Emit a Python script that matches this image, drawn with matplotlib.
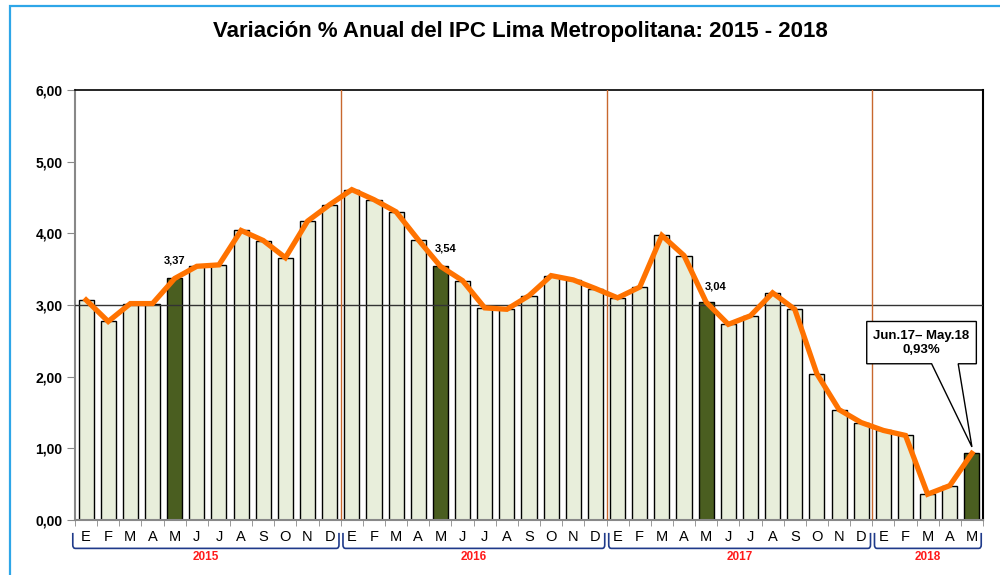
import matplotlib
matplotlib.use("Agg")
import matplotlib.pyplot as plt
from matplotlib.patches import Rectangle, Polygon, PathPatch
from matplotlib.path import Path
import matplotlib.transforms as mtransforms
import numpy as np

# ---- data ----
years = ["2015", "2016", "2017", "2018"]
months_per_year = [12, 12, 12, 5]
month_labels = ["E", "F", "M", "A", "M", "J", "J", "A", "S", "O", "N", "D"]
values_2015 = [3.07, 2.77, 3.02, 3.02, 3.37, 3.54, 3.56, 4.04, 3.90, 3.66, 4.17, 4.40]
values_2016 = [4.61, 4.47, 4.30, 3.91, 3.54, 3.34, 2.96, 2.94, 3.13, 3.41, 3.35, 3.23]
values_2017 = [3.10, 3.25, 3.97, 3.69, 3.04, 2.73, 2.85, 3.17, 2.94, 2.04, 1.54, 1.36]
values_2018 = [1.25, 1.18, 0.36, 0.48, 0.93]
highlight_labels = {4: "3,37", 16: "3,54", 28: "3,04"}
y_ticks = [0, 1, 2, 3, 4, 5, 6]
title = "Variación % Anual del IPC Lima Metropolitana: 2015 - 2018"
callout_text = "Jun.17– May.18\n0,93%"

values = values_2015 + values_2016 + values_2017 + values_2018
labels = []
for n in months_per_year:
    labels += month_labels[:n]
x = np.arange(len(values))
highlight_idx = [4, 16, 28, 40]
label_offsets = {4: (0, 9), 16: (3.5, 9), 28: (7, 8)}

bar_light = "#e8eedb"
bar_dark = "#4a5e20"
line_col = "#ff7200"
div_col = "#c8682e"

plt.rcParams['font.family'] = ['Liberation Sans', 'DejaVu Sans']

fig = plt.figure(figsize=(10, 5.75), dpi=100)
ax = fig.add_axes([0.075, 1 - 520 / 575, 0.908, 430 / 575])

colors = [bar_dark if i in highlight_idx else bar_light for i in x]
ax.bar(x, values, width=0.68, color=colors, edgecolor="black", linewidth=1.0, zorder=2)
ax.plot(x, values, color=line_col, linewidth=3.8, zorder=4, solid_joinstyle="miter")

ax.axhline(3.0, color="#333333", linewidth=1.0, zorder=3)

# year dividers
bounds = np.cumsum(months_per_year)[:-1] - 0.5
for b in bounds:
    ax.axvline(b, color=div_col, linewidth=1.0, zorder=3)

ax.set_xlim(-0.5, len(values) - 0.5)
ax.set_ylim(0, 6)
ax.set_yticks(y_ticks)
ax.set_yticklabels([f"{v:.2f}".replace(".", ",") for v in y_ticks],
                   fontsize=10, fontweight="bold")
ax.tick_params(axis="y", length=6, color="#888888", pad=3)

ax.set_xticks(x)
ax.set_xticklabels(labels, fontsize=10.5)
ax.tick_params(axis="x", which="major", length=0, pad=7)
ax.set_xticks(np.arange(-0.5, len(values) + 0.5, 1), minor=True)
ax.tick_params(axis="x", which="minor", length=4, color="#888888")

for s in ["left", "bottom"]:
    ax.spines[s].set_color("#888888")
    ax.spines[s].set_linewidth(1.5)
ax.spines["top"].set_color("black")
ax.spines["top"].set_linewidth(1.2)
ax.spines["right"].set_color("black")
ax.spines["right"].set_linewidth(1.5)

# value labels
for i, txt in highlight_labels.items():
    ax.annotate(txt, (x[i], values[i]), xytext=label_offsets[i], textcoords="offset points",
                ha="center", va="bottom", fontsize=8, fontweight="bold", zorder=6)

# brackets and year labels
trans = mtransforms.blended_transform_factory(ax.transData, ax.transAxes)
start = 0
y_top, y_bot = -0.030, -0.066
for yr, n in zip(years, months_per_year):
    x0 = start - 0.5 + 0.1
    x1 = start + n - 0.5 - 0.08
    if start == 0:
        x0 = start - 0.6
    r = 0.12
    verts = [(x0, y_top), (x0, y_bot + 0.008), (x0, y_bot), (x0 + r, y_bot),
             (x1 - r, y_bot), (x1, y_bot), (x1, y_bot + 0.008), (x1, y_top)]
    codes = [Path.MOVETO, Path.LINETO, Path.CURVE3, Path.CURVE3,
             Path.LINETO, Path.CURVE3, Path.CURVE3, Path.LINETO]
    pp = PathPatch(Path(verts, codes), transform=trans, fill=False,
                   edgecolor="#1f3a8a", linewidth=1.2, clip_on=False)
    ax.add_patch(pp)
    ax.text((x0 + x1) / 2, -0.086, yr, transform=trans, ha="center", va="center",
            color="#ff1a1a", fontsize=8.5, fontweight="bold")
    start += n

# callout
bx0, bx1 = 35.25, 40.2
by0, by1 = 2.18, 2.77
w0, w1 = 38.18, 39.38
tip = (40.0, 1.02)
poly = Polygon([(bx0, by0), (bx0, by1), (bx1, by1), (bx1, by0), (w1, by0), tip, (w0, by0)],
               closed=True, facecolor="white", edgecolor="black", linewidth=1.0, zorder=5)
ax.add_patch(poly)
ax.text((bx0 + bx1) / 2, (by0 + by1) / 2, callout_text, ha="center", va="center",
        fontsize=9.5, fontweight="bold", zorder=6, linespacing=1.25)

# title
fig.text(0.52, 1 - 32 / 575, title, ha="center", va="center", fontsize=16,
         fontweight="bold")

# outer light-blue frame
fig.add_artist(Rectangle((0.010, -0.05), 1.2, 1 - 6 / 575 + 0.05, transform=fig.transFigure,
                         fill=False, edgecolor="#2ea6e8", linewidth=1.6))

fig.savefig("out.png", dpi=100)
